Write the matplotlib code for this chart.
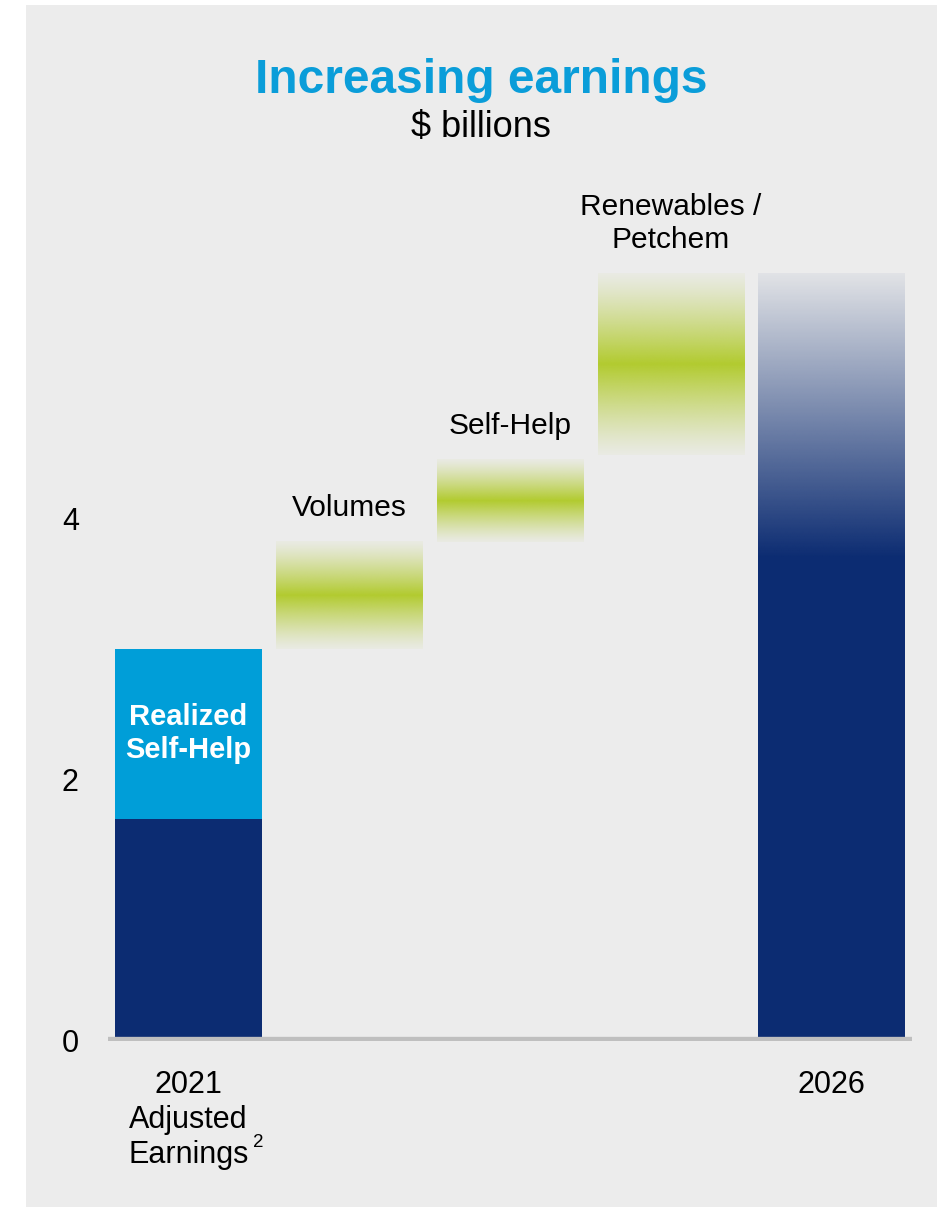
import matplotlib.pyplot as plt
import numpy as np
from matplotlib.patches import Rectangle
from matplotlib.colors import to_rgb

plt.rcParams['font.family'] = ['Liberation Sans', 'DejaVu Sans']

# values in $ billions
base_2021 = 1.7
realized_self_help = 1.3
step_names = ["Volumes", "Self-Help", "Renewables /\nPetchem"]
step_low = [3.0, 3.82, 4.48]
step_high = [3.82, 4.45, 5.87]
solid_2026 = 3.7
high_2026 = 5.87
x_labels = ["2021\nAdjusted\nEarnings", "2026"]

navy = "#0c2c72"
light_blue = "#009ed8"
green = "#b2cb2f"
panel = "#ececec"
width = 0.91

fig = plt.figure(figsize=(9.44, 12.07), dpi=100)
fig.patch.set_facecolor("white")
fig.patches.append(Rectangle((26 / 944, 0), (937 - 26) / 944, 1 - 5 / 1207,
                             transform=fig.transFigure, facecolor=panel,
                             edgecolor="none", zorder=-10))

ax = fig.add_axes([108 / 944, 166 / 1207, 804 / 944, 6 * 130.75 / 1207])
ax.set_facecolor("none")
ax.set_xlim(-0.5, 4.5)
ax.set_ylim(0, 6)

# 2021 stacked bar
ax.bar(0, base_2021, width=width, color=navy, zorder=2)
ax.bar(0, realized_self_help, bottom=base_2021, width=width, color=light_blue, zorder=2)
ax.text(0, base_2021 + realized_self_help / 2, "Realized\nSelf-Help", color="white",
        fontsize=21, fontweight="bold", ha="center", va="center", linespacing=1.25, zorder=3)


def gradient(ax, x, lo, hi, color, alpha_col):
    rgba = np.zeros((len(alpha_col), 1, 4))
    rgba[:, 0, :3] = to_rgb(color)
    rgba[:, 0, 3] = alpha_col
    ax.imshow(rgba, extent=[x - width / 2, x + width / 2, lo, hi], origin="lower",
              aspect="auto", interpolation="bilinear", zorder=2)


# fuzzy ranges for each step
n = 200
t = np.linspace(-1, 1, n)
for i, (name, lo, hi) in enumerate(zip(step_names, step_low, step_high)):
    a = 0.05 + 0.95 * (1 - np.abs(t)) ** 1.2
    gradient(ax, i + 1, lo, hi, green, a)
    ax.annotate(name, xy=(i + 1, hi), xytext=(0, 14), textcoords="offset points",
                ha="center", va="bottom", fontsize=21.5, linespacing=1.25)

# 2026 bar: solid then fading
ax.bar(4, solid_2026, width=width, color=navy, zorder=2)
u = np.linspace(0, 1, n)
gradient(ax, 4, solid_2026, high_2026, navy, 1 - 0.95 * u)

ax.axhline(0, color="#bfbfbf", lw=6, zorder=4, solid_capstyle="butt")

for s in ax.spines.values():
    s.set_visible(False)
ax.set_xticks([])
ax.set_yticks([0, 2, 4])
ax.tick_params(axis="y", length=0, pad=21, labelsize=22)

for x, lab in zip([0, 4], x_labels):
    ax.annotate(lab, xy=(x, 0), xytext=(0, -21), textcoords="offset points",
                ha="center", va="top", fontsize=22, linespacing=1.22,
                annotation_clip=False)
ax.text(0.40, -0.775, "2", fontsize=13.5, ha="left", va="center", clip_on=False)

fig.text(481 / 944, 1 - 93 / 1207, "Increasing earnings", color="#0a9dd9", fontsize=34.5,
         fontweight="bold", ha="center", va="baseline")
fig.text(481 / 944, 1 - 137 / 1207, "$ billions", fontsize=26, ha="center", va="baseline")

fig.savefig("out.png", dpi=100, facecolor=fig.get_facecolor())
